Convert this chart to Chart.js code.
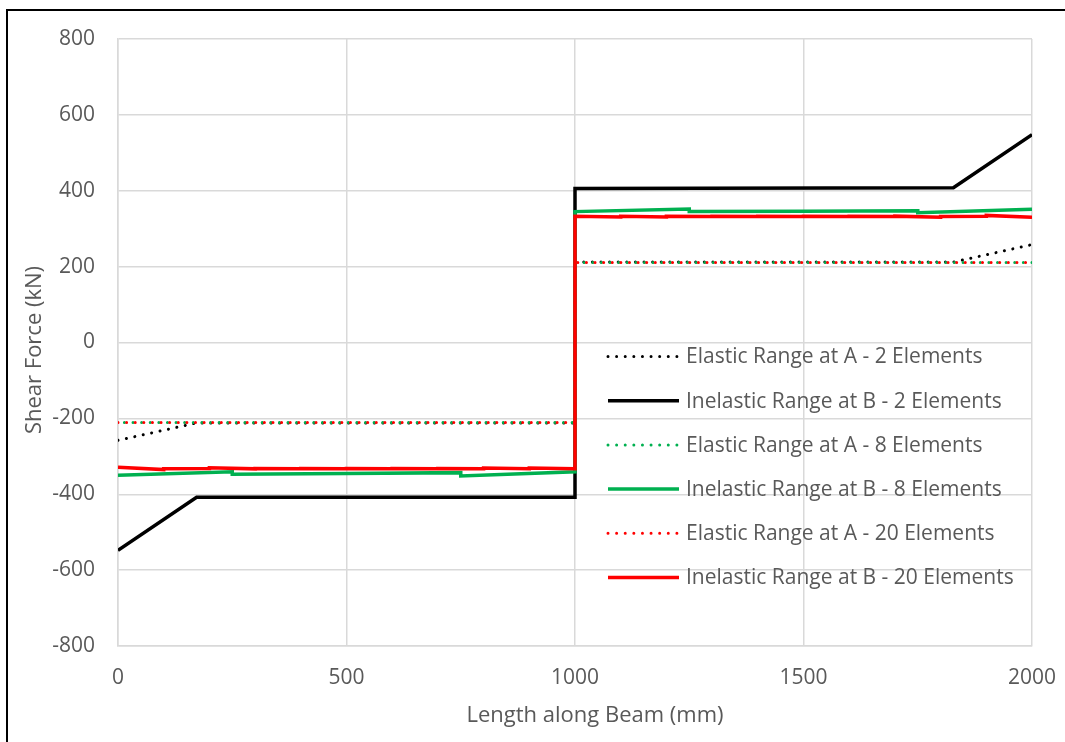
<!DOCTYPE html>
<html>
<head>
<meta charset="utf-8">
<script src="https://cdn.jsdelivr.net/npm/chart.js@4/dist/chart.umd.min.js"></script>
<style>
  html, body { margin: 0; padding: 0; background: #ffffff; }
  #wrap { position: relative; width: 1065px; height: 742px; overflow: hidden; }
  #frame { position: absolute; left: 6px; top: 9px; right: -4px; bottom: -4px;
           border-top: 2px solid #000; border-left: 2px solid #000; pointer-events: none; }
  canvas { display: block; }
</style>
</head>
<body>
<div id="wrap">
  <canvas id="c" width="1065" height="742"></canvas>
  <div id="frame"></div>
</div>
<script>
// Shear force along a 2000 mm beam for different mesh refinements

// Positions along the beam (mm)
const elem2X = [0, 172, 1000, 1000, 1828, 2000];
const spanX = [0, 1000, 1000, 2000];
const elem8X = [0, 250, 250, 500, 500, 750, 750, 1000,
                1000, 1250, 1250, 1500, 1500, 1750, 1750, 2000];
const elem20X = [0, 100, 100, 200, 200, 300, 300, 400, 400, 500,
                 500, 600, 600, 700, 700, 800, 800, 900, 900, 1000,
                 1000, 1100, 1100, 1200, 1200, 1300, 1300, 1400, 1400, 1500,
                 1500, 1600, 1600, 1700, 1700, 1800, 1800, 1900, 1900, 2000];

// Shear force (kN)
const elastic2 = [-258, -212, -212, 212, 212, 258];
const inelastic2 = [-548, -408, -408, 406, 408, 548];
const elastic8 = [-211, -211, 211, 211];
const inelastic8 = [-350, -341, -347, -345, -345, -343, -352, -341,
                    345, 352, 345, 346, 346, 347, 342, 351];
const elastic20 = [-211, -211, 211, 211];
const inelastic20 = [-329, -335, -333, -332, -330, -333, -332, -333, -332, -333,
                     -332, -333, -332, -333, -332, -333, -331, -333, -331, -333,
                     333, 331, 333, 331, 333, 332, 333, 332, 333, 332,
                     333, 332, 333, 332, 333, 330, 332, 333, 335, 330];

const seriesLabels = [
  'Elastic Range at A - 2 Elements',
  'Inelastic Range at B - 2 Elements',
  'Elastic Range at A - 8 Elements',
  'Inelastic Range at B - 8 Elements',
  'Elastic Range at A - 20 Elements',
  'Inelastic Range at B - 20 Elements'
];

// Axis ticks and titles
const xTicks = [0, 500, 1000, 1500, 2000];
const yTicks = [-800, -600, -400, -200, 0, 200, 400, 600, 800];
const xTitle = 'Length along Beam (mm)';
const yTitle = 'Shear Force (kN)';

const BLACK = '#000000', GREEN = '#00b050', RED = '#ff0000';
const TEXT = '#595959';
const DOT = [0.01, 8.6];

function pts(xs, ys) { return xs.map((x, i) => ({ x: x, y: ys[i] })); }

const specs = [
  { xs: elem2X, ys: elastic2, color: BLACK, dotted: true, offset: 0 },
  { xs: elem2X, ys: inelastic2, color: BLACK, dotted: false },
  { xs: spanX, ys: elastic8, color: GREEN, dotted: true, offset: 2.2 },
  { xs: elem8X, ys: inelastic8, color: GREEN, dotted: false },
  { xs: spanX, ys: elastic20, color: RED, dotted: true, offset: 0 },
  { xs: elem20X, ys: inelastic20, color: RED, dotted: false }
];

const datasets = specs.map((s, i) => ({
  label: seriesLabels[i],
  data: pts(s.xs, s.ys),
  borderColor: s.color,
  backgroundColor: s.color,
  borderWidth: s.dotted ? 3 : 3.5,
  borderDash: s.dotted ? DOT : [],
  borderDashOffset: s.dotted ? s.offset : 0,
  borderCapStyle: s.dotted ? 'round' : 'butt',
  borderJoinStyle: 'miter',
  pointRadius: 0,
  tension: 0,
  fill: false,
  order: 5 - i
}));

// Legend drawn inside the plot area, over the grid
const insideLegend = {
  id: 'insideLegend',
  afterDatasetsDraw(chart) {
    const ctx = chart.ctx;
    const x0 = 608, x1 = 679, tx = 686;
    const y0 = 356.5, dy = 44.2;
    ctx.save();
    chart.data.datasets.forEach((ds, i) => {
      const y = y0 + i * dy;
      ctx.beginPath();
      ctx.strokeStyle = ds.borderColor;
      ctx.lineWidth = ds.borderWidth;
      ctx.lineCap = ds.borderCapStyle;
      ctx.setLineDash(ds.borderDash);
      ctx.moveTo(x0, y);
      ctx.lineTo(x1, y);
      ctx.stroke();
      ctx.setLineDash([]);
      ctx.fillStyle = TEXT;
      ctx.font = "21px 'Open Sans'";
      ctx.textAlign = 'left';
      ctx.textBaseline = 'middle';
      ctx.fillText(ds.label, tx, y + 1);
    });
    ctx.restore();
  }
};

// Axis titles, centred on the chart frame
const axisTitles = {
  id: 'axisTitles',
  afterDraw(chart) {
    const ctx = chart.ctx;
    ctx.save();
    ctx.fillStyle = TEXT;
    ctx.font = "22px 'Open Sans'";
    ctx.textAlign = 'center';
    ctx.textBaseline = 'middle';
    ctx.fillText(xTitle, 595, 716);
    ctx.translate(35, 350);
    ctx.rotate(-Math.PI / 2);
    ctx.fillText(yTitle, 0, 0);
    ctx.restore();
  }
};

Chart.defaults.font.family = "'Open Sans', sans-serif";
Chart.defaults.color = TEXT;

new Chart(document.getElementById('c'), {
  type: 'line',
  data: { datasets: datasets },
  plugins: [insideLegend, axisTitles],
  options: {
    responsive: false,
    animation: false,
    events: [],
    layout: { padding: { left: 0, top: 39, right: 33, bottom: 0 } },
    plugins: { legend: { display: false }, tooltip: { enabled: false } },
    scales: {
      x: {
        type: 'linear',
        min: 0, max: 2000,
        afterBuildTicks: (s) => { s.ticks = xTicks.map(v => ({ value: v })); },
        afterFit: (s) => { s.height = 96; s.paddingLeft = 0; s.paddingRight = 0; },
        grid: { color: '#d9d9d9', lineWidth: 1.5, drawTicks: false },
        border: { color: '#d9d9d9', width: 1.5 },
        ticks: { font: { size: 21 }, padding: 19, maxRotation: 0, color: TEXT,
                 callback: (v) => String(v) },
        title: { display: false }
      },
      y: {
        type: 'linear',
        min: -800, max: 800,
        afterBuildTicks: (s) => { s.ticks = yTicks.map(v => ({ value: v })); },
        afterFit: (s) => { s.width = 118; s.paddingTop = 0; s.paddingBottom = 0; },
        grid: { color: '#d9d9d9', lineWidth: 1.5, drawTicks: false },
        border: { color: '#d9d9d9', width: 1.5 },
        ticks: { font: { size: 21 }, padding: 23, color: TEXT,
                 callback: (v) => String(v) },
        title: { display: false }
      }
    }
  }
});
</script>
</body>
</html>
